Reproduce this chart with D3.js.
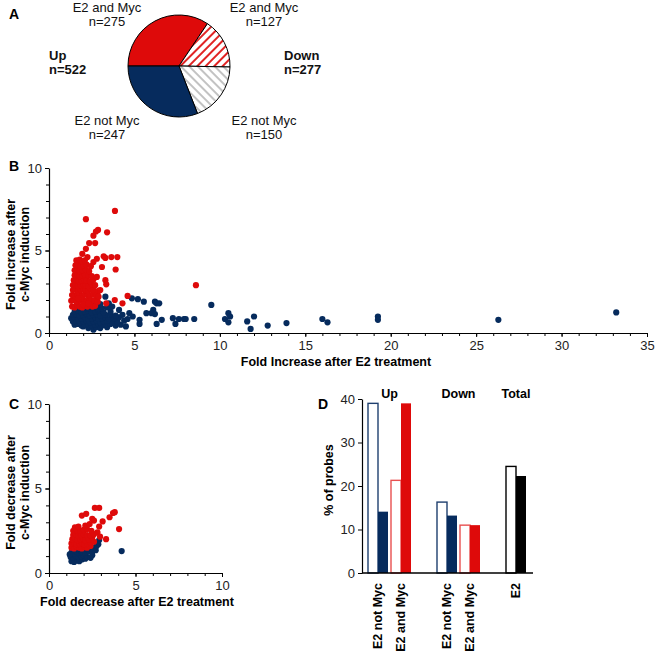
<!DOCTYPE html>
<html>
<head>
<meta charset="utf-8">
<script src="https://cdn.jsdelivr.net/npm/d3@7"></script>
<style>
  body { margin: 0; background: #fff; }
  svg text { font-family: "Liberation Sans", Arial, sans-serif; }
</style>
</head>
<body>
<svg id="chart" width="661" height="656"></svg>
<script>
// ---- data ----
const pieNames = ["Up E2 and Myc", "Down E2 and Myc", "Down E2 not Myc", "Up E2 not Myc"];
const pieCounts = [275, 127, 150, 247];

// panel B: fold increase (E2, c-Myc)
const bUpNotMyc = [
  [3.3,2.2],[4.85,2.1],[5.2,2.05],[5.55,1.9],[6.2,1.9],[6.3,1.8],[6.45,1.8],[6.1,1.4],[6.0,1.2],[6.2,1.15],
  [4.7,1.2],[4.9,1.0],[5.3,0.8],[5.3,0.55],[6.6,0.8],[6.3,0.55],[7.25,0.9],[7.4,0.55],[7.6,0.85],[7.9,0.85],
  [8.0,0.85],[8.5,0.85],[9.5,1.7],[10.3,0.85],[10.5,1.2],[10.6,1.0],[10.5,0.65],[11.6,0.7],[11.8,0.25],[12.0,1.0],
  [12.8,0.45],[13.9,0.6],[16.0,0.85],[16.3,0.65],[19.25,1.0],[19.25,0.8],[26.3,0.8],[33.2,1.25],[5.7,1.2],
  [2.3,0.3],[2.6,0.2],[2.75,0.35],[3.0,0.3],[3.4,0.35],[2.0,0.4],
  [1.5,0.5],[1.7,0.55],[1.9,0.45],[2.1,0.5],[2.3,0.55],[2.5,0.45],[2.7,0.5],[2.9,0.55],[3.1,0.45],[3.3,0.5],[3.6,0.55],[3.9,0.45],[4.2,0.5],[4.5,0.4],
  [1.4,0.7],[1.6,0.75],[1.8,0.65],[2.0,0.7],[2.2,0.75],[2.4,0.65],[2.6,0.7],[2.8,0.75],[3.0,0.65],[3.2,0.7],[3.4,0.75],[3.7,0.65],[4.0,0.7],[4.4,0.75],
  [1.3,0.9],[1.5,0.95],[1.7,0.85],[1.9,0.9],[2.1,0.95],[2.3,0.85],[2.5,0.9],[2.7,0.95],[2.9,0.85],[3.1,0.9],[3.3,0.95],[3.5,0.85],[3.8,0.9],[4.1,0.95],[4.6,0.85],
  [1.4,1.1],[1.6,1.15],[1.8,1.05],[2.0,1.1],[2.2,1.15],[2.4,1.05],[2.6,1.1],[2.8,1.15],[3.0,1.05],[3.3,1.1],[3.6,1.15],[3.9,1.05],[4.3,1.1],
  [1.5,1.3],[1.7,1.35],[1.9,1.25],[2.1,1.3],[2.3,1.35],[2.5,1.25],[2.7,1.3],[2.9,1.35],[3.2,1.25],[3.6,1.3],[4.1,1.4],
  [2.3,1.5],[2.6,1.55],[2.9,1.45],[3.1,1.5],[3.4,1.55],[3.7,1.6],
  [2.7,1.7],[3.0,1.75],[3.5,1.8]
];
const bUpAndMyc = [
  [2.16,6.9],[3.86,7.4],[2.87,6.25],[2.75,6.15],[3.4,6.1],[2.6,5.9],[2.35,5.45],[2.7,5.45],[2.16,5.1],[1.95,4.8],
  [2.25,4.6],[3.2,4.65],[3.3,4.55],[3.65,4.6],[4.0,4.6],[2.8,4.5],[3.9,3.85],[3.1,4.0],[3.3,3.2],[3.35,2.95],
  [4.6,2.25],[3.85,2.0],[4.3,1.8],[3.35,1.8],[8.6,2.9],
  [1.35,1.6],[1.5,1.55],[1.65,1.7],[1.8,1.6],[1.95,1.55],[2.1,1.65],[2.25,1.6],[2.4,1.7],[2.55,1.6],[2.7,1.65],
  [1.3,1.95],[1.45,2.0],[1.6,1.9],[1.75,2.05],[1.9,1.95],[2.05,2.0],[2.2,1.9],[2.35,2.05],[2.5,1.95],[2.65,2.0],[2.85,1.9],
  [1.35,2.3],[1.5,2.25],[1.65,2.35],[1.8,2.3],[1.95,2.25],[2.1,2.35],[2.25,2.3],[2.4,2.25],[2.6,2.35],[2.75,2.3],
  [1.4,2.6],[1.55,2.65],[1.7,2.55],[1.85,2.6],[2.0,2.65],[2.15,2.6],[2.3,2.55],[2.45,2.65],[2.6,2.6],[2.9,2.55],
  [1.4,2.9],[1.55,2.95],[1.7,2.85],[1.85,2.9],[2.0,2.95],[2.15,2.9],[2.3,2.85],[2.5,2.95],[2.7,2.9],
  [1.45,3.2],[1.6,3.25],[1.75,3.15],[1.9,3.2],[2.05,3.25],[2.2,3.2],[2.4,3.15],[2.6,3.25],
  [1.5,3.5],[1.65,3.55],[1.8,3.45],[1.95,3.5],[2.1,3.55],[2.3,3.5],[2.5,3.45],
  [1.5,3.8],[1.65,3.85],[1.8,3.75],[1.95,3.8],[2.15,3.85],[2.35,3.75],
  [1.55,4.1],[1.7,4.15],[1.85,4.05],[2.0,4.1],[2.2,4.15],[2.45,4.05],
  [1.6,4.4],[1.8,4.45],[1.95,4.35],[2.1,4.4],[2.6,4.3],
  [1.7,2.1],[2.0,1.75],[2.3,1.8],[2.9,2.2],[3.0,2.6],[2.8,3.4]
];

// panel C: fold decrease (E2, c-Myc)
const cDownNotMyc = [
  [4.2,1.3],[2.9,1.95],[2.85,1.7],
  [1.3,0.7],[1.45,0.65],[1.6,0.75],[1.75,0.7],[1.9,0.8],[2.1,0.85],
  [1.25,0.95],[1.4,0.9],[1.55,1.0],[1.7,0.95],[1.85,1.0],[2.0,1.05],[2.2,0.95],[2.4,0.9],[2.5,1.05],
  [1.3,1.2],[1.45,1.15],[1.6,1.25],[1.75,1.2],[1.9,1.25],[2.1,1.2],[2.3,1.3],[2.5,1.25],[2.7,1.35],
  [1.2,1.1],[2.6,1.5],[2.4,1.45],[2.75,1.6]
];
const cDownAndMyc = [
  [2.65,3.85],[2.9,3.85],[3.7,3.55],[3.8,3.6],[1.9,3.4],[2.15,3.5],[2.5,3.2],[2.6,3.1],[1.5,2.7],[3.1,3.05],
  [2.9,2.75],[4.05,2.6],[2.8,2.4],[2.95,2.15],[3.3,2.0],[3.5,3.3],
  [1.3,1.5],[1.45,1.45],[1.6,1.55],[1.75,1.5],[1.9,1.45],[2.05,1.55],[2.2,1.5],[2.4,1.6],
  [1.3,1.75],[1.45,1.8],[1.6,1.7],[1.75,1.75],[1.9,1.8],[2.05,1.7],[2.2,1.75],[2.4,1.8],[2.6,1.85],
  [1.35,2.0],[1.5,2.05],[1.65,1.95],[1.8,2.0],[1.95,2.05],[2.1,1.95],[2.3,2.0],[2.5,2.1],
  [1.4,2.25],[1.55,2.3],[1.7,2.2],[1.85,2.25],[2.0,2.3],[2.2,2.25],[2.4,2.2],[2.6,2.3],
  [1.4,2.5],[1.6,2.55],[1.8,2.5],[2.0,2.55],[2.2,2.6],[2.45,2.5],
  [2.1,2.8],[1.7,2.75],[2.35,2.9]
];

// panel D: % of probes
const barKeys = ["upNot", "upAnd", "gap1", "downNot", "downAnd", "gap2", "total"];
const barGroups = ["upNot", "upAnd", "downNot", "downAnd", "total"];
const barLabels = ["E2 not Myc", "E2 and Myc", "E2 not Myc", "E2 and Myc", "E2"];
const openValues = [39, 21.3, 16.3, 11, 24.5];
const filledValues = [14.1, 39, 13.2, 11, 22.3];
const headers = ["Up", "Down", "Total"];
const barTicks = [0, 10, 20, 30, 40];

const RED = "#de0a0a", NAVY = "#062b5d";

const svg = d3.select("#chart");
const defs = svg.append("defs");

// hatch fills for the "Down" slices
defs.append("pattern").attr("id", "hatchRed")
  .attr("patternUnits", "userSpaceOnUse").attr("width", 6).attr("height", 6)
  .attr("patternTransform", "rotate(45)")
  .call(p => {
    p.append("rect").attr("width", 6).attr("height", 6).attr("fill", "#fff");
    p.append("line").attr("x1", 1).attr("x2", 1).attr("y1", 0).attr("y2", 6)
      .attr("stroke", RED).attr("stroke-width", 1.8);
  });
defs.append("pattern").attr("id", "hatchGrey")
  .attr("patternUnits", "userSpaceOnUse").attr("width", 6).attr("height", 6)
  .attr("patternTransform", "rotate(-45)")
  .call(p => {
    p.append("rect").attr("width", 6).attr("height", 6).attr("fill", "#fff");
    p.append("line").attr("x1", 1).attr("x2", 1).attr("y1", 0).attr("y2", 6)
      .attr("stroke", "#777").attr("stroke-width", 0.9);
  });

function panelLetter(t, x, y) {
  svg.append("text").attr("x", x).attr("y", y).attr("font-size", 14)
    .attr("font-weight", "bold").text(t);
}

// ---- A: pie ----
panelLetter("A", 9, 19);
const pieG = svg.append("g").attr("transform", "translate(179,66)");
const pie = d3.pie().sort(null).startAngle(-Math.PI / 2).endAngle(1.5 * Math.PI);
const arc = d3.arc().innerRadius(0).outerRadius(51);
const pieFills = [RED, "url(#hatchRed)", "url(#hatchGrey)", NAVY];
pieG.selectAll("path").data(pie(pieCounts)).join("path")
  .attr("d", arc).attr("fill", (d, i) => pieFills[i])
  .attr("stroke", "#000").attr("stroke-width", 1);

function twoLine(lines, x, y, opts = {}) {
  const t = svg.append("text").attr("x", x).attr("y", y).attr("font-size", 13)
    .attr("text-anchor", opts.anchor || "middle").attr("fill", "#111");
  if (opts.bold) t.attr("font-weight", "bold");
  lines.forEach((s, i) => t.append("tspan").attr("x", x).attr("dy", i ? 14 : 0).text(s));
}
twoLine(["E2 and Myc", "n=" + pieCounts[0]], 107, 12);
twoLine(["E2 and Myc", "n=" + pieCounts[1]], 264, 12);
twoLine(["E2 not Myc", "n=" + pieCounts[3]], 107, 125);
twoLine(["E2 not Myc", "n=" + pieCounts[2]], 264, 125);
twoLine(["Up", "n=" + (pieCounts[0] + pieCounts[3])], 49, 60, { anchor: "start", bold: true });
twoLine(["Down", "n=" + (pieCounts[1] + pieCounts[2])], 284, 60, { anchor: "start", bold: true });

// ---- scatter helper ----
function scatter(opts) {
  const x = d3.scaleLinear().domain([0, opts.xMax]).range([opts.x0, opts.x1]);
  const y = d3.scaleLinear().domain([0, 10]).range([opts.y0, opts.y1]);
  const g = svg.append("g");
  // minor ticks
  g.append("g").attr("transform", `translate(0,${opts.y0})`)
    .call(d3.axisBottom(x).tickValues(d3.range(0, opts.xMax + 1, 1)).tickSize(3).tickFormat(""))
    .call(a => a.select(".domain").remove());
  g.append("g").attr("transform", `translate(${opts.x0},0)`)
    .call(d3.axisLeft(y).tickValues(d3.range(0, 11, 1)).tickSize(3).tickFormat(""))
    .call(a => a.select(".domain").remove());
  // major ticks + labels
  const xa = g.append("g").attr("transform", `translate(0,${opts.y0})`)
    .call(d3.axisBottom(x).tickValues(d3.range(0, opts.xMax + 1, 5)).tickSize(4).tickSizeOuter(0).tickPadding(4));
  const ya = g.append("g").attr("transform", `translate(${opts.x0},0)`)
    .call(d3.axisLeft(y).tickValues([0, 5, 10]).tickSize(4).tickSizeOuter(0).tickPadding(3));
  [xa, ya].forEach(a => {
    a.selectAll("text").attr("font-size", 13).attr("fill", "#222")
      .attr("font-family", "Liberation Sans, Arial, sans-serif");
    a.select(".domain").attr("stroke-width", 1.2);
  });
  svg.selectAll(".tick line").attr("stroke", "#000");

  const dots = svg.append("g");
  [[opts.navy, NAVY], [opts.red, RED]].forEach(([pts, col]) => {
    dots.append("g").selectAll("circle").data(pts).join("circle")
      .attr("cx", d => x(d[0])).attr("cy", d => y(d[1])).attr("r", 3.1).attr("fill", col);
  });

  svg.append("text").attr("x", opts.xTitleX).attr("y", opts.y0 + 33)
    .attr("text-anchor", "middle").attr("font-size", 12.5).attr("font-weight", "bold")
    .text(opts.xTitle);
  const yc = (opts.y0 + opts.y1) / 2 + 4;
  opts.yTitle.forEach((s, i) => {
    svg.append("text").attr("transform", `translate(${15 + i * 14},${yc}) rotate(-90)`)
      .attr("text-anchor", "middle").attr("font-size", 12.5).attr("font-weight", "bold").text(s);
  });
}

// ---- B ----
panelLetter("B", 9, 171);
scatter({
  xMax: 35, x0: 49, x1: 647, y0: 333, y1: 168,
  navy: bUpNotMyc, red: bUpAndMyc,
  xTitle: "Fold Increase after E2 treatment", xTitleX: 336,
  yTitle: ["Fold increase after", "c-Myc induction"]
});

// ---- C ----
panelLetter("C", 9, 409);
scatter({
  xMax: 10, x0: 49, x1: 222, y0: 573, y1: 404,
  navy: cDownNotMyc, red: cDownAndMyc,
  xTitle: "Fold decrease after E2 treatment", xTitleX: 137,
  yTitle: ["Fold decrease after", "c-Myc induction"]
});

// ---- D: bars ----
panelLetter("D", 318, 409);
const bx = d3.scaleBand().domain(barKeys).range([366.5, 527.5]).padding(0);
const by = d3.scaleLinear().domain([0, 40]).range([573, 399]);
const barCols = [NAVY, RED, NAVY, RED, "#000"];
const openStroke = ["#1f3f6e", "#e85050", "#1f3f6e", "#e85050", "#000"];
const dG = svg.append("g");
barGroups.forEach((k, i) => {
  const c = bx(k) + bx.bandwidth() / 2;
  dG.append("rect").attr("x", c - 10).attr("width", 10)
    .attr("y", by(openValues[i])).attr("height", by(0) - by(openValues[i]))
    .attr("fill", "#fff").attr("stroke", openStroke[i]).attr("stroke-width", 1.4);
  dG.append("rect").attr("x", c).attr("width", 10)
    .attr("y", by(filledValues[i])).attr("height", by(0) - by(filledValues[i]))
    .attr("fill", barCols[i]);
  svg.append("text").attr("transform", `translate(${c},583) rotate(-90)`)
    .attr("text-anchor", "end").attr("dy", "0.35em").attr("font-size", 12.5)
    .attr("font-weight", "bold").text(barLabels[i]);
});
const dy = svg.append("g").attr("transform", "translate(362,0)")
  .call(d3.axisLeft(by).tickValues(barTicks).tickSize(4).tickSizeOuter(0).tickPadding(3));
dy.selectAll("text").attr("font-size", 13).attr("fill", "#222")
  .attr("font-family", "Liberation Sans, Arial, sans-serif");
dy.select(".domain").attr("stroke-width", 1.2);
svg.append("line").attr("x1", 362).attr("x2", 533).attr("y1", 573).attr("y2", 573)
  .attr("stroke", "#000").attr("stroke-width", 1.3);
svg.append("text").attr("transform", "translate(333,480) rotate(-90)")
  .attr("text-anchor", "middle").attr("font-size", 12.5).attr("font-weight", "bold")
  .text("% of probes");
const headerX = [(bx("upNot") + bx("upAnd") + bx.bandwidth()) / 2,
  (bx("downNot") + bx("downAnd") + bx.bandwidth()) / 2,
  bx("total") + bx.bandwidth() / 2];
headers.forEach((h, i) => {
  svg.append("text").attr("x", headerX[i]).attr("y", 398).attr("text-anchor", "middle")
    .attr("font-size", 12.5).attr("font-weight", "bold").text(h);
});
</script>
</body>
</html>
